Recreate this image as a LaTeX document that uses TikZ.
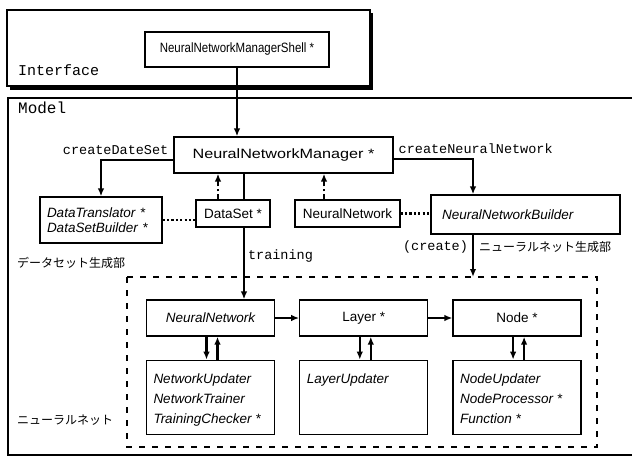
\documentclass[tikz,border=0pt]{standalone}
\usepackage{fontspec}
\setmainfont{Liberation Sans}
\newfontfamily\codefont{Liberation Mono}
\newfontfamily\jpfont{Noto Sans CJK JP}
\newfontfamily\widefont[FakeStretch=1.2]{Liberation Sans}
\newfontfamily\narrowfont[FakeStretch=0.85]{Liberation Sans}
\usepackage{tikz}
\usetikzlibrary{arrows.meta,calc,positioning}

\newcommand{\boxsize}{\fontsize{13.5}{16}\selectfont}
\newcommand{\classlines}[1]{\parbox[t][64pt][t]{114pt}{\raggedright\rule{0pt}{18pt}#1}}

\begin{document}
\begin{tikzpicture}[x=1pt,y=-1pt,
	classbox/.style={draw, line width=1.3pt, font=\boxsize, inner sep=4pt},
	lowbox/.style={draw, line width=1.3pt, font=\fontsize{13.5}{20}\selectfont\itshape, inner xsep=7pt, inner ysep=5pt},
	conn/.style={line width=2.1pt, -{Latex[length=8pt,width=6.5pt]}},
	bar/.style={line width=2.1pt},
	uses/.style={line width=2.1pt, dash pattern=on 5pt off 3pt on 2pt off 3pt, -{Latex[length=8pt,width=6.5pt]}},
	tie/.style={line width=2.1pt, dash pattern=on 2.1pt off 2.3pt},
	code/.style={font=\codefont\fontsize{13.5}{16}\selectfont, inner sep=4pt},
	jp/.style={font=\jpfont\fontsize{12}{14}\selectfont, inner sep=5pt}]
	\useasboundingbox (0,0) rectangle (632,463);

	% Interface
	\draw[line width=1.3pt] (7,10) rectangle (370,86);
	\draw[line width=3pt] (10,88) -- (371.5,88) -- (371.5,13);
	\node[code, anchor=west, font=\codefont\fontsize{15}{18}\selectfont] (iflabel) at (14,70) {Interface};
	\node[classbox, font=\narrowfont\boxsize, minimum width=184pt, minimum height=35pt] (shell) at (237,49.5) {NeuralNetworkManagerShell *};

	% Model
	\draw[line width=1.3pt] (632,98) -- (8,98) -- (8,455) -- (632,455);
	\node[code, anchor=west, font=\codefont\fontsize{16}{18}\selectfont] (mlabel) at (14,108) {Model};

	\node[classbox, font=\widefont\boxsize, minimum width=219pt, minimum height=36pt] (mgr) at (283.5,155) {NeuralNetworkManager *};
	\node[classbox, font=\fontsize{13.5}{15}\selectfont\itshape, text width=108pt, align=left, inner xsep=7pt, minimum height=46pt] (trans) at (101,220) {DataTranslator *\\DataSetBuilder *};
	\node[classbox, minimum width=74pt, minimum height=27pt] (dset) at (233,213.5) {DataSet *};
	\node[classbox, minimum width=105pt, minimum height=27pt] (nnref) at (347.5,213.5) {NeuralNetwork};
	\node[classbox, font=\boxsize\itshape, text width=167pt, align=left, inner xsep=11pt, minimum height=39pt] (builder) at (525.5,214.5) {NeuralNetworkBuilder};
	\node[jp, anchor=west] (dslabel) at (12,263) {データセット生成部};

	\path (shell.south) edge[conn] (shell.south |- mgr.north);
	\draw[conn] ([yshift=-5pt]mgr.west) -| node[code, above left, pos=0] {createDateSet} (trans.north);
	\draw[conn] ([yshift=-4pt]mgr.east) -| node[code, above right, pos=0] {createNeuralNetwork} ([xshift=-52.5pt]builder.north);
	\draw[uses] ([xshift=-15pt]dset.north) -- ([xshift=-15pt]dset.north |- mgr.south);
	\draw[bar] ([xshift=11pt]dset.north) -- ([xshift=11pt]dset.north |- mgr.south);
	\draw[uses] ([xshift=-23.5pt]nnref.north) -- ([xshift=-23.5pt]nnref.north |- mgr.south);
	\draw[tie] (trans.east) -- (trans.east -| dset.west);
	\draw[tie] (nnref.east) -- (nnref.east -| builder.west);

	% neural net part
	\draw[line width=1.3pt, dash pattern=on 6pt off 7pt] (127,277) rectangle (597,447);
	\coordinate (regtop) at (473,277);
	\node[jp, anchor=west] (nnlabel) at (12,420) {ニューラルネット};

	\node[classbox, font=\boxsize\itshape, minimum width=128pt, minimum height=36pt] (nn) at (210.5,318) {NeuralNetwork};
	\node[classbox, minimum width=128pt, minimum height=36pt] (layer) [right=24pt of nn] {Layer *};
	\node[classbox, minimum width=128pt, minimum height=36pt] (unit) [right=24pt of layer] {Node *};
	\node[lowbox] (nnsub) [below=23pt of nn] {\classlines{NetworkUpdater\\NetworkTrainer\\TrainingChecker *}};
	\node[lowbox] (layersub) [below=23pt of layer] {\classlines{LayerUpdater}};
	\node[lowbox] (unitsub) [below=23pt of unit] {\classlines{NodeUpdater\\NodeProcessor *\\Function *}};

	\draw[conn] ([xshift=11pt]dset.south) -- node[code, right, pos=0.4, inner sep=3pt] {training} ([xshift=11pt]dset.south |- nn.north);
	\draw[conn] ([xshift=-52.5pt]builder.south) -- node[code, left, pos=0.3] {(create)} node[jp, right, pos=0.3] {ニューラルネット生成部} (regtop);

	\draw[conn] (nn) -- (layer);
	\draw[conn] (layer) -- (unit);
	\draw[conn] ([xshift=-4pt]nn.south) -- ([xshift=-4pt]nnsub.north);
	\draw[conn] ([xshift=7pt]nnsub.north) -- ([xshift=7pt]nn.south);
	\draw[conn] ([xshift=-4pt]layer.south) -- ([xshift=-4pt]layersub.north);
	\draw[conn] ([xshift=7pt]layersub.north) -- ([xshift=7pt]layer.south);
	\draw[conn] ([xshift=-4pt]unit.south) -- ([xshift=-4pt]unitsub.north);
	\draw[conn] ([xshift=7pt]unitsub.north) -- ([xshift=7pt]unit.south);
\end{tikzpicture}
\end{document}
